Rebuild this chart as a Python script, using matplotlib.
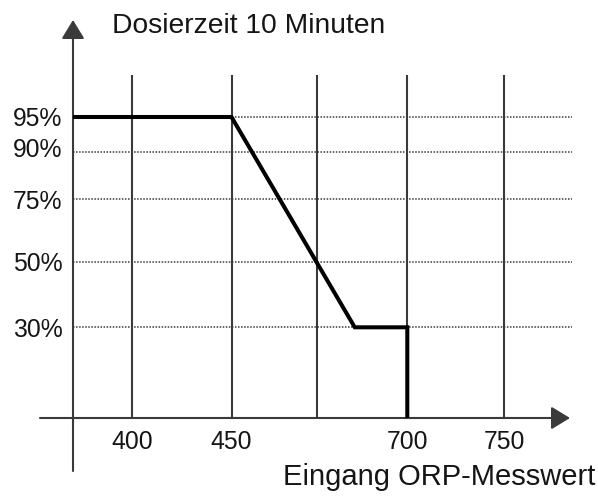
import numpy as np
import matplotlib
matplotlib.use("Agg")
import matplotlib.pyplot as plt
from matplotlib.patches import FancyArrowPatch
from matplotlib.transforms import ScaledTranslation

plt.rcParams["font.family"] = ["Liberation Sans", "DejaVu Sans"]

# ORP input grid (category slots along the x axis)
orp_labels = ["400", "450", "", "700", "750"]
orp_slots = [0, 1, 2, 3, 4]

# Dosing levels in percent
dose_levels = [95, 90, 75, 50, 30]
dose_labels = ["95%", "90%", "75%", "50%", "30%"]

# Dosing curve: slot position vs. dosing percentage (starts at the axis origin)
x_origin = -0.6
curve_x = [x_origin, 1, 2.42, 3, 3]
curve_y = [95, 95, 30, 30, 0]

# Schematic (uneven) spacing of both axes: value -> drawing length in px
x_knots = [-0.6, 0, 1, 2, 3, 4, 4.7]
x_len = [0, 59, 158.5, 243.7, 334.3, 431, 497]
y_knots = [-20, 0, 30, 50, 75, 90, 95, 110]
y_len = [-60.6, 0, 90.7, 156.5, 218.7, 266.3, 301, 405]


def x_fwd(v):
    return np.interp(v, x_knots, x_len)


def x_inv(p):
    return np.interp(p, x_len, x_knots)


def y_fwd(v):
    return np.interp(v, y_knots, y_len)


def y_inv(p):
    return np.interp(p, y_len, y_knots)


W, H, DPI = 598, 500, 100
fig = plt.figure(figsize=(W / DPI, H / DPI), dpi=DPI)
ax_w, ax_h = 497, 398
ax = fig.add_axes([73 / W, 82 / H, ax_w / W, ax_h / H])
ax.set_xscale("function", functions=(x_fwd, x_inv))
ax.set_yscale("function", functions=(y_fwd, y_inv))
ax.set_xlim(x_origin, float(x_inv(ax_w)))
ax.set_ylim(0, float(y_inv(ax_h)))
for s in ax.spines.values():
    s.set_visible(False)

axis_color = "#3a3a3a"
text_color = "#151515"

# vertical grid lines
for xs in orp_slots:
    ax.axvline(xs, ymin=0, ymax=343 / ax_h, color=axis_color, lw=1.5,
               solid_capstyle="butt", zorder=1)

# dotted horizontal level lines
for lv in dose_levels:
    ax.axhline(lv, xmin=0, xmax=1.004, color=axis_color, lw=1.1,
               linestyle=(0, (1, 1)), clip_on=False, zorder=1)

# dosing curve
ax.plot(curve_x, curve_y, color="black", lw=2.9, solid_joinstyle="miter",
        solid_capstyle="butt", zorder=3, clip_on=False)

# axes with arrow heads
arrow_kw = dict(transform=ax.transAxes, arrowstyle="-|>,head_length=11.5,head_width=7",
                mutation_scale=1, lw=1.5, color=axis_color, shrinkA=0, shrinkB=0,
                clip_on=False, zorder=2)
ax.add_patch(FancyArrowPatch((0, -53 / ax_h), (0, 1), **arrow_kw))
ax.add_patch(FancyArrowPatch((-33 / ax_w, 0), (1, 0), **arrow_kw))

# tick labels
ax.set_xticks(orp_slots, orp_labels)
ax.set_yticks(dose_levels, dose_labels)
ax.minorticks_off()
ax.tick_params(axis="both", length=0, labelsize=17.8, labelcolor=text_color)
ax.tick_params(axis="x", pad=8.6)
ax.tick_params(axis="y", pad=7.4)
lbl90 = ax.get_yticklabels()[1]
lbl90.set_transform(lbl90.get_transform() + ScaledTranslation(0, 0.045, fig.dpi_scale_trans))

# axis titles
fig.text(112 / W, (H - 33) / H, "Dosierzeit 10 Minuten", fontsize=20.3,
         color=text_color, ha="left", va="baseline")
fig.text(595 / W, (H - 485) / H, "Eingang ORP-Messwert", fontsize=21,
         color=text_color, ha="right", va="baseline")

fig.savefig("out.png", dpi=DPI, facecolor="white")
